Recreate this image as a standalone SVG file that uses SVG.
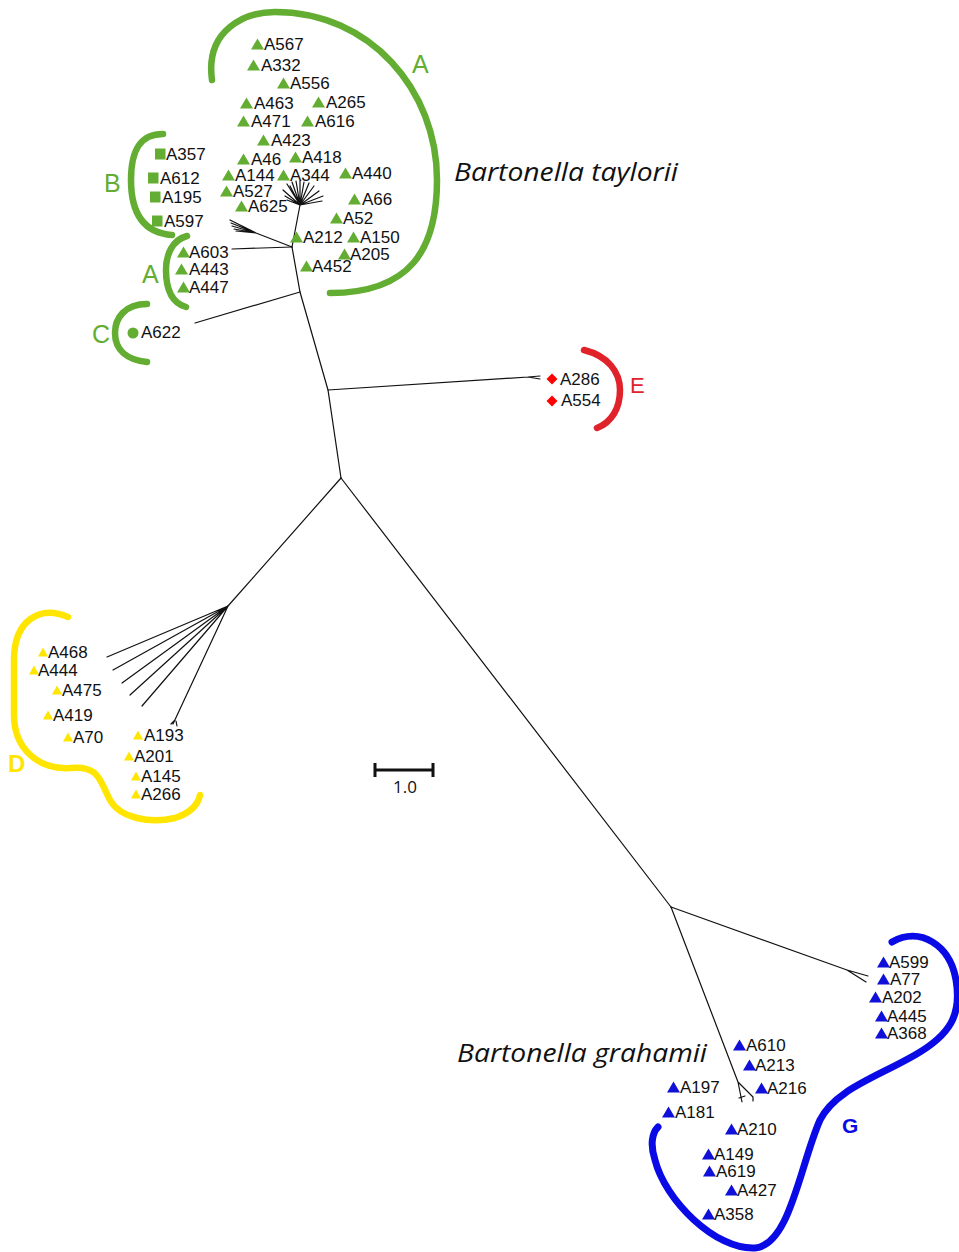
<svg xmlns="http://www.w3.org/2000/svg" xmlns:xlink="http://www.w3.org/1999/xlink" width="959" height="1252" viewBox="0 0 959 1252">
<style>
.lbl{font-family:"Liberation Sans",Arial,sans-serif;font-size:17px;fill:#111}
.tree{fill:none;stroke:#111;stroke-width:1.2;stroke-linecap:round}
.gb{fill:none;stroke:#62ad32;stroke-width:6.5;stroke-linecap:round}
.rb{fill:none;stroke:#e0232a;stroke-width:6.5;stroke-linecap:round}
.yb{fill:none;stroke:#ffe500;stroke-width:6.5;stroke-linecap:round}
.bb{fill:none;stroke:#0a0ae6;stroke-width:7;stroke-linecap:round}
.g{fill:#62ad32}.y{fill:#ffe500}.b{fill:#1010d8}.r{fill:#ff0000}
.cl{font-family:"Liberation Sans",Arial,sans-serif;font-size:25px}
.sp{font-family:"Open Sans","Liberation Sans",sans-serif;font-style:italic;font-size:26px;fill:#111}
</style>
<defs>
<path id="tri" d="M0,5.5 L6.5,-5.5 L13,5.5 Z"/>
<path id="triy" d="M0,4.5 L5,-4.5 L10,4.5 Z"/>
<path id="sq" d="M0,-5.5 H10.5 V5.5 H0 Z"/>
<path id="dia" d="M-5.5,0 L0,-5.5 L5.5,0 L0,5.5 Z"/>
</defs>
<rect width="959" height="1252" fill="#fff"/>

<g id="connectors" class="tree">
<path d="M292,247 L300,292 L328,390 L341,478"/>
<path d="M300,292 L195,323"/>
<path d="M232,249 L292,247"/>
<path d="M292,247 L300,205"/>
<path d="M300,205 L283,190 M300,205 L287,184 M300,205 L292,182 M300,205 L296,181 M300,205 L300,181 M300,205 L304,182 M300,205 L309,183 M300,205 L314,186 M300,205 L319,191 M300,205 L323,196 M300,205 L322,201 M300,205 L285,196 M300,205 L287,200 M300,205 L290,186"/>
<path d="M292,247 L256,233 M256,233 L230,220 M256,233 L231,223 M256,233 L232,226 M256,233 L234,229 M256,233 L236,231"/>
<path d="M328,390 L528,377 M528,377 L540,376 M528,377 L540,379"/>
<path d="M341,478 L228,606"/>
<path d="M228,606 L107,657 M228,606 L113,670 M228,606 L122,683 M228,606 L130,695 M228,606 L142,706 M228,606 L173,724 M175,720 L171,724 M176,721 L177,726"/>
<path d="M341,478 L671,907"/>
<path d="M671,907 L847,970 M847,970 L868,976 M847,970 L866,982"/>
<path d="M671,907 L738,1082 M738,1082 L742,1102 M738,1082 L753,1097 M739,1098 L745,1096 M753,1097 L753,1101"/>
</g>

<g id="brackets">
<path id="bracket-A-big" class="gb" d="M212,80 C205,30 245,12 275,12 C370,12 437,90 437,180 C437,250 410,293 330,293"/>
<path id="bracket-B" class="gb" d="M163,134 C140,134 131,150 131,180 C131,215 145,233 172,235"/>
<path id="bracket-A-small" class="gb" d="M187,236 C172,240 166,255 166,270 C166,290 172,303 186,307"/>
<path id="bracket-C" class="gb" d="M147,304 C125,304 115,318 115,333 C115,350 127,360 147,362"/>
<path id="bracket-E" class="rb" d="M584,350 C608,356 620,372 620,390 C620,408 612,422 597,428"/>
<path id="bracket-D" class="yb" d="M68,617 C40,605 14,620 14,660 L14,715 C14,750 40,770 70,768 C100,765 100,782 110,800 C120,818 150,824 175,818 C190,813 198,805 200,795"/>
<path id="bracket-G" class="bb" d="M892,942 C920,926 950,945 956,980 C962,1015 950,1035 915,1055 C875,1078 835,1090 820,1120 C800,1165 790,1245 755,1248 C715,1250 665,1200 655,1160 C650,1145 652,1133 658,1127"/>
</g>

<g id="group-labels">
<text class="cl" x="412" y="73" fill="#62ad32">A</text>
<text class="cl" x="104" y="192" fill="#62ad32">B</text>
<text class="cl" x="142" y="283" fill="#62ad32">A</text>
<text class="cl" x="92" y="343" fill="#62ad32">C</text>
<text class="cl" x="630" y="393" fill="#e0232a" style="font-size:22px">E</text>
<text class="cl" x="8" y="772" fill="#ffe500" style="font-weight:bold;font-size:24px">D</text>
<text class="cl" x="842" y="1133" fill="#0a0ae6" style="font-weight:bold;font-size:21px">G</text>
</g>

<g id="species">
<text class="sp" x="454" y="181" textLength="224" lengthAdjust="spacingAndGlyphs">Bartonella taylorii</text>
<text class="sp" x="457" y="1062" textLength="250" lengthAdjust="spacingAndGlyphs">Bartonella grahamii</text>
</g>

<g id="scale-bar">
<path d="M375,770 H433 M375,763 V777 M433,763 V777" fill="none" stroke="#111" stroke-width="3"/>
<text x="405" y="793" text-anchor="middle" style="font-family:'Open Sans','Liberation Sans',sans-serif;font-size:17px;fill:#111">1.0</text>
</g>

<g id="green-leaves">
<g id="A567"><use href="#tri" class="g" x="251" y="44"/><text class="lbl" x="264" y="50">A567</text></g>
<g id="A332"><use href="#tri" class="g" x="247" y="65"/><text class="lbl" x="261" y="71">A332</text></g>
<g id="A556"><use href="#tri" class="g" x="277" y="83"/><text class="lbl" x="290" y="89">A556</text></g>
<g id="A463"><use href="#tri" class="g" x="240" y="103"/><text class="lbl" x="254" y="109">A463</text></g>
<g id="A265"><use href="#tri" class="g" x="312" y="102"/><text class="lbl" x="326" y="108">A265</text></g>
<g id="A471"><use href="#tri" class="g" x="237" y="121"/><text class="lbl" x="251" y="127">A471</text></g>
<g id="A616"><use href="#tri" class="g" x="301" y="121"/><text class="lbl" x="315" y="127">A616</text></g>
<g id="A423"><use href="#tri" class="g" x="257" y="140"/><text class="lbl" x="271" y="146">A423</text></g>
<g id="A46"><use href="#tri" class="g" x="237" y="159"/><text class="lbl" x="251" y="165">A46</text></g>
<g id="A418"><use href="#tri" class="g" x="289" y="157"/><text class="lbl" x="302" y="163">A418</text></g>
<g id="A440"><use href="#tri" class="g" x="339" y="173"/><text class="lbl" x="352" y="179">A440</text></g>
<g id="A144"><use href="#tri" class="g" x="222" y="175"/><text class="lbl" x="235" y="181">A144</text></g>
<g id="A344"><use href="#tri" class="g" x="277" y="175"/><text class="lbl" x="290" y="181">A344</text></g>
<g id="A527"><use href="#tri" class="g" x="220" y="191"/><text class="lbl" x="233" y="197">A527</text></g>
<g id="A66"><use href="#tri" class="g" x="348" y="199"/><text class="lbl" x="362" y="205">A66</text></g>
<g id="A625"><use href="#tri" class="g" x="235" y="206"/><text class="lbl" x="248" y="212">A625</text></g>
<g id="A52"><use href="#tri" class="g" x="330" y="218"/><text class="lbl" x="343" y="224">A52</text></g>
<g id="A212"><use href="#tri" class="g" x="290" y="237"/><text class="lbl" x="303" y="243">A212</text></g>
<g id="A150"><use href="#tri" class="g" x="347" y="237"/><text class="lbl" x="360" y="243">A150</text></g>
<g id="A205"><use href="#tri" class="g" x="338" y="254"/><text class="lbl" x="350" y="260">A205</text></g>
<g id="A452"><use href="#tri" class="g" x="300" y="266"/><text class="lbl" x="312" y="272">A452</text></g>
<g id="A603"><use href="#tri" class="g" x="177" y="252"/><text class="lbl" x="189" y="258">A603</text></g>
<g id="A443"><use href="#tri" class="g" x="175" y="269"/><text class="lbl" x="189" y="275">A443</text></g>
<g id="A447"><use href="#tri" class="g" x="177" y="287"/><text class="lbl" x="189" y="293">A447</text></g>
<g id="A357"><use href="#sq" class="g" x="155" y="154"/><text class="lbl" x="166" y="160">A357</text></g>
<g id="A612"><use href="#sq" class="g" x="148" y="178"/><text class="lbl" x="160" y="184">A612</text></g>
<g id="A195"><use href="#sq" class="g" x="150" y="197"/><text class="lbl" x="162" y="203">A195</text></g>
<g id="A597"><use href="#sq" class="g" x="152" y="221"/><text class="lbl" x="164" y="227">A597</text></g>
<g id="A622"><circle class="g" cx="133" cy="333" r="5.5"/><text class="lbl" x="141" y="338">A622</text></g>
</g>

<g id="red-leaves">
<g id="A286"><use href="#dia" class="r" x="552" y="379"/><text class="lbl" x="560" y="385">A286</text></g>
<g id="A554"><use href="#dia" class="r" x="552" y="401"/><text class="lbl" x="561" y="406">A554</text></g>
</g>

<g id="yellow-leaves">
<g id="A468"><use href="#triy" class="y" x="38" y="652"/><text class="lbl" x="48" y="658">A468</text></g>
<g id="A444"><use href="#triy" class="y" x="29" y="670"/><text class="lbl" x="38" y="676">A444</text></g>
<g id="A475"><use href="#triy" class="y" x="52" y="690"/><text class="lbl" x="62" y="696">A475</text></g>
<g id="A419"><use href="#triy" class="y" x="43" y="715"/><text class="lbl" x="53" y="721">A419</text></g>
<g id="A70"><use href="#triy" class="y" x="63" y="737"/><text class="lbl" x="73" y="743">A70</text></g>
<g id="A193"><use href="#triy" class="y" x="133" y="735"/><text class="lbl" x="144" y="741">A193</text></g>
<g id="A201"><use href="#triy" class="y" x="124" y="756"/><text class="lbl" x="134" y="762">A201</text></g>
<g id="A145"><use href="#triy" class="y" x="131" y="776"/><text class="lbl" x="141" y="782">A145</text></g>
<g id="A266"><use href="#triy" class="y" x="131" y="794"/><text class="lbl" x="141" y="800">A266</text></g>
</g>

<g id="blue-leaves">
<g id="A599"><use href="#tri" class="b" x="877" y="962"/><text class="lbl" x="889" y="968">A599</text></g>
<g id="A77"><use href="#tri" class="b" x="877" y="979"/><text class="lbl" x="890" y="985">A77</text></g>
<g id="A202"><use href="#tri" class="b" x="869" y="997"/><text class="lbl" x="882" y="1003">A202</text></g>
<g id="A445"><use href="#tri" class="b" x="875" y="1016"/><text class="lbl" x="887" y="1022">A445</text></g>
<g id="A368"><use href="#tri" class="b" x="875" y="1033"/><text class="lbl" x="887" y="1039">A368</text></g>
<g id="A610"><use href="#tri" class="b" x="733" y="1045"/><text class="lbl" x="746" y="1051">A610</text></g>
<g id="A213"><use href="#tri" class="b" x="743" y="1065"/><text class="lbl" x="755" y="1071">A213</text></g>
<g id="A197"><use href="#tri" class="b" x="667" y="1087"/><text class="lbl" x="680" y="1093">A197</text></g>
<g id="A216"><use href="#tri" class="b" x="755" y="1088"/><text class="lbl" x="767" y="1094">A216</text></g>
<g id="A181"><use href="#tri" class="b" x="662" y="1112"/><text class="lbl" x="675" y="1118">A181</text></g>
<g id="A210"><use href="#tri" class="b" x="725" y="1129"/><text class="lbl" x="737" y="1135">A210</text></g>
<g id="A149"><use href="#tri" class="b" x="702" y="1154"/><text class="lbl" x="714" y="1160">A149</text></g>
<g id="A619"><use href="#tri" class="b" x="703" y="1171"/><text class="lbl" x="716" y="1177">A619</text></g>
<g id="A427"><use href="#tri" class="b" x="725" y="1190"/><text class="lbl" x="737" y="1196">A427</text></g>
<g id="A358"><use href="#tri" class="b" x="702" y="1214"/><text class="lbl" x="714" y="1220">A358</text></g>
</g>
</svg>
